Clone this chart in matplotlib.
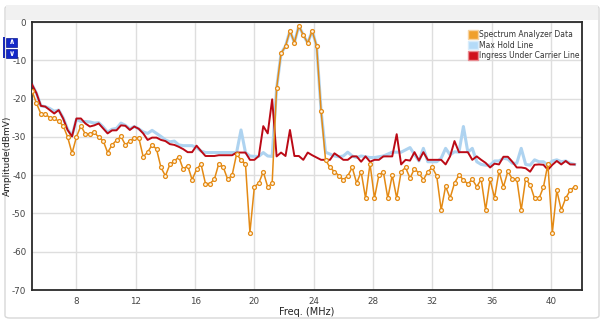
import numpy as np
import matplotlib
matplotlib.use("Agg")
import matplotlib.pyplot as plt
from matplotlib.patches import Patch, Rectangle, FancyBboxPatch
from matplotlib.ticker import FuncFormatter

# Sweep settings: 123 points, 0.3 MHz apart, starting at 5 MHz
start_mhz = 5.0
step_mhz = 0.3
n_points = 123
freq = start_mhz + step_mhz * np.arange(n_points)

# Spectrum analyzer trace (dBmV)
spectrum = [
    -18.0, -21.2, -24.0, -24.0, -25.0, -25.2, -25.9, -27.1, -30.0, -34.3, -30.0,
    -27.1, -29.3, -29.2, -28.8, -30.1, -31.0, -34.1, -32.1, -30.9, -29.9,
    -32.1, -31.1, -30.2, -30.2, -35.2, -34.0, -32.1, -33.2, -38.0, -40.2, -37.2,
    -36.4, -35.2, -38.5, -37.5, -41.2, -38.5, -37.1, -42.2, -42.2, -41.1,
    -37.0, -37.9, -41.1, -40.0, -34.5, -36.0, -37.1, -55.0, -43.0, -42.1, -39.1,
    -43.1, -42.1, -17.3, -8.2, -6.3, -2.3, -5.4, -1.0, -3.4, -5.5, -2.3, -6.3, -23.2,
    -36.0, -38.0, -39.1, -40.1, -41.2, -40.2, -38.0, -42.1, -39.1, -46.0, -37.0,
    -46.0, -40.0, -39.1, -46.0, -40.0, -46.0, -39.1,
    -38.0, -40.8, -38.3, -39.5, -41.2, -39.1, -38.0, -40.2, -49.1, -42.9, -46.0,
    -42.1, -40.0, -41.2, -42.3, -41.1, -43.0, -41.1, -49.1, -41.1, -46.0,
    -39.0, -43.1, -39.0, -41.0, -41.0, -49.1, -41.0, -42.5, -46.1, -46.1, -43.1,
    -37.1, -55.0, -44.0, -49.1, -46.0, -44.0, -43.0,
]

# Max hold trace
max_hold = [
    -16.3, -18.6, -21.9, -22.1, -22.6, -23.3, -23.0, -25.0, -28.0, -29.7, -25.4,
    -26.0, -26.0, -26.1, -26.4, -26.3, -27.4, -28.8, -28.0, -27.8, -26.4,
    -27.0, -27.9, -27.3, -27.9, -28.7, -29.1, -28.3, -29.1, -29.9, -30.8, -31.3,
    -31.1, -32.1, -32.3, -32.3, -32.3, -32.8, -33.7, -34.1, -34.1, -34.1,
    -34.1, -34.1, -34.1, -34.1, -34.1, -28.2, -34.1, -35.0, -35.1, -35.1, -34.1,
    -35.0, -35.1, -17.3, -8.2, -6.3, -2.3, -5.4, -1.0, -3.4, -5.5, -2.3, -6.3, -23.2,
    -34.0, -34.5, -35.0, -35.2, -35.0, -34.0, -35.0, -35.4, -35.0, -35.2, -35.4,
    -35.4, -35.2, -35.0, -34.5, -34.0, -34.0, -34.0,
    -33.4, -32.8, -34.6, -36.3, -33.0, -36.5, -36.5, -36.5, -35.6, -33.0, -34.7,
    -33.9, -34.0, -27.3, -34.0, -33.0, -36.5, -37.2, -37.4, -37.4, -36.3,
    -36.3, -35.6, -35.8, -36.9, -36.9, -33.0, -37.2, -37.4, -36.0, -36.5, -36.5,
    -37.4, -36.3, -36.0, -36.5, -36.3, -36.9, -37.2,
]

# Ingress under carrier trace
ingress = [
    -16.3, -18.6, -21.9, -22.1, -23.0, -23.9, -23.0, -25.2, -28.2, -29.9, -25.2,
    -25.2, -26.5, -27.3, -27.0, -26.5, -27.8, -29.1, -28.3, -28.3, -27.0,
    -27.1, -28.2, -27.3, -27.9, -29.1, -30.8, -30.2, -30.2, -30.8, -31.1, -31.9,
    -32.1, -32.6, -33.2, -34.0, -34.0, -32.3, -33.7, -35.0, -35.0, -35.0,
    -34.8, -34.8, -34.8, -34.8, -34.1, -34.1, -34.1, -36.0, -36.0, -35.0, -27.2,
    -29.1, -20.2, -35.1, -34.1, -35.0, -28.2, -35.0, -35.0, -36.0, -34.1, -34.8, -35.4, -36.0,
    -36.0, -36.0, -34.3, -35.1, -36.0, -36.0, -35.1, -35.1, -36.5, -35.1, -36.5,
    -36.0, -36.0, -35.1, -35.1, -35.1, -29.3, -37.2,
    -36.0, -36.2, -34.0, -36.2, -34.0, -36.0, -36.0, -36.0, -36.0, -37.2, -35.1,
    -31.1, -34.0, -34.0, -34.0, -36.0, -35.1, -36.0, -36.8, -38.0, -37.0,
    -37.2, -35.2, -35.2, -36.5, -38.0, -38.0, -38.2, -39.1, -37.3, -37.2, -37.3,
    -38.6, -37.3, -36.3, -37.2, -36.3, -37.2, -37.2,
]

x_ticks = [8, 12, 16, 20, 24, 28, 32, 36, 40]
y_ticks = [0, -10, -20, -30, -40, -50, -60, -70]

c_spec = '#e48a14'
c_hold = '#aed3f0'
c_ingress = '#bb0a16'

W, H = 605, 322
fig = plt.figure(figsize=(W / 100, H / 100), dpi=100)

# outer panel with rounded corners and a grey header strip
fig.patches.append(FancyBboxPatch((5 / W, 4 / H), 594 / W, 312 / H,
                                  boxstyle='round,pad=0,rounding_size=0.008',
                                  transform=fig.transFigure, facecolor='white',
                                  edgecolor='#d8d8d8', linewidth=1.0, zorder=-5))
fig.patches.append(Rectangle((6 / W, (H - 20) / H), 592 / W, 15 / H,
                             transform=fig.transFigure, facecolor='#f1f1f1',
                             edgecolor='none', zorder=-4))

ax = fig.add_axes([32 / W, 1 - 290 / H, 550 / W, 268 / H])
ax.set_zorder(1)

ax.plot(freq, max_hold, color=c_hold, lw=2.2, zorder=2)
ax.plot(freq, ingress, color=c_ingress, lw=1.4, zorder=3)
ax.plot(freq, spectrum, color=c_spec, lw=1.1, marker='o', ms=2.8,
        mfc='#fff6e6', mec=c_spec, mew=0.9, zorder=4)

ax.set_xlim(5.0, 42.1)
ax.set_ylim(-70, 0)
ax.set_xticks(x_ticks)
ax.set_yticks(y_ticks)
ax.yaxis.set_major_formatter(FuncFormatter(lambda v, p: '%d' % v))
ax.grid(True, color='#dedede', lw=1.0)
ax.set_axisbelow(True)
ax.tick_params(length=0, labelsize=6.3, labelcolor='#444444')
ax.tick_params(axis='y', pad=4)
ax.tick_params(axis='x', pad=5)
for side in ['left', 'bottom', 'top', 'right']:
    ax.spines[side].set_color('#2a2a2a')
    ax.spines[side].set_linewidth(1.3)

ax.set_xlabel('Freq. (MHz)', fontsize=7, color='#222222', labelpad=1)
ax.set_ylabel('Amplitude(dBmV)', fontsize=6.5, color='#222222')
ax.yaxis.set_label_coords(-0.037, 0.5)

handles = [
    Patch(facecolor='#f0a02c', edgecolor='#f7d3a0', label='Spectrum Analyzer Data'),
    Patch(facecolor='#b4dbf8', edgecolor='#d8ecfb', label='Max Hold Line'),
    Patch(facecolor='#d0101c', edgecolor='#e88a90', label='Ingress Under Carrier Line'),
]
ax.legend(handles=handles, loc='upper left', bbox_to_anchor=(0.783, 0.99),
          frameon=False, fontsize=5.5, handlelength=1.3, handleheight=1.3,
          handletextpad=0.2, labelspacing=0.2, borderaxespad=0.3,
          labelcolor='#333333')

# zoom buttons at the left edge
fig.patches.append(Rectangle((3 / W, 1 - 58 / H), 2 / W, 21 / H,
                             transform=fig.transFigure, facecolor='#1a2ab8',
                             edgecolor='none', zorder=3))
for top, glyph in [(37, '\u2227'), (48, '\u2228')]:
    fig.patches.append(Rectangle((6 / W, 1 - (top + 10) / H), 11 / W, 9.5 / H,
                                 transform=fig.transFigure, facecolor='#1328c8',
                                 edgecolor='#0c1a90', linewidth=0.5, zorder=3))
    fig.text(11.5 / W, 1 - (top + 5) / H, glyph, color='white', fontsize=5.5,
             fontweight='bold', ha='center', va='center', zorder=4)

fig.savefig('out.png', dpi=100)
